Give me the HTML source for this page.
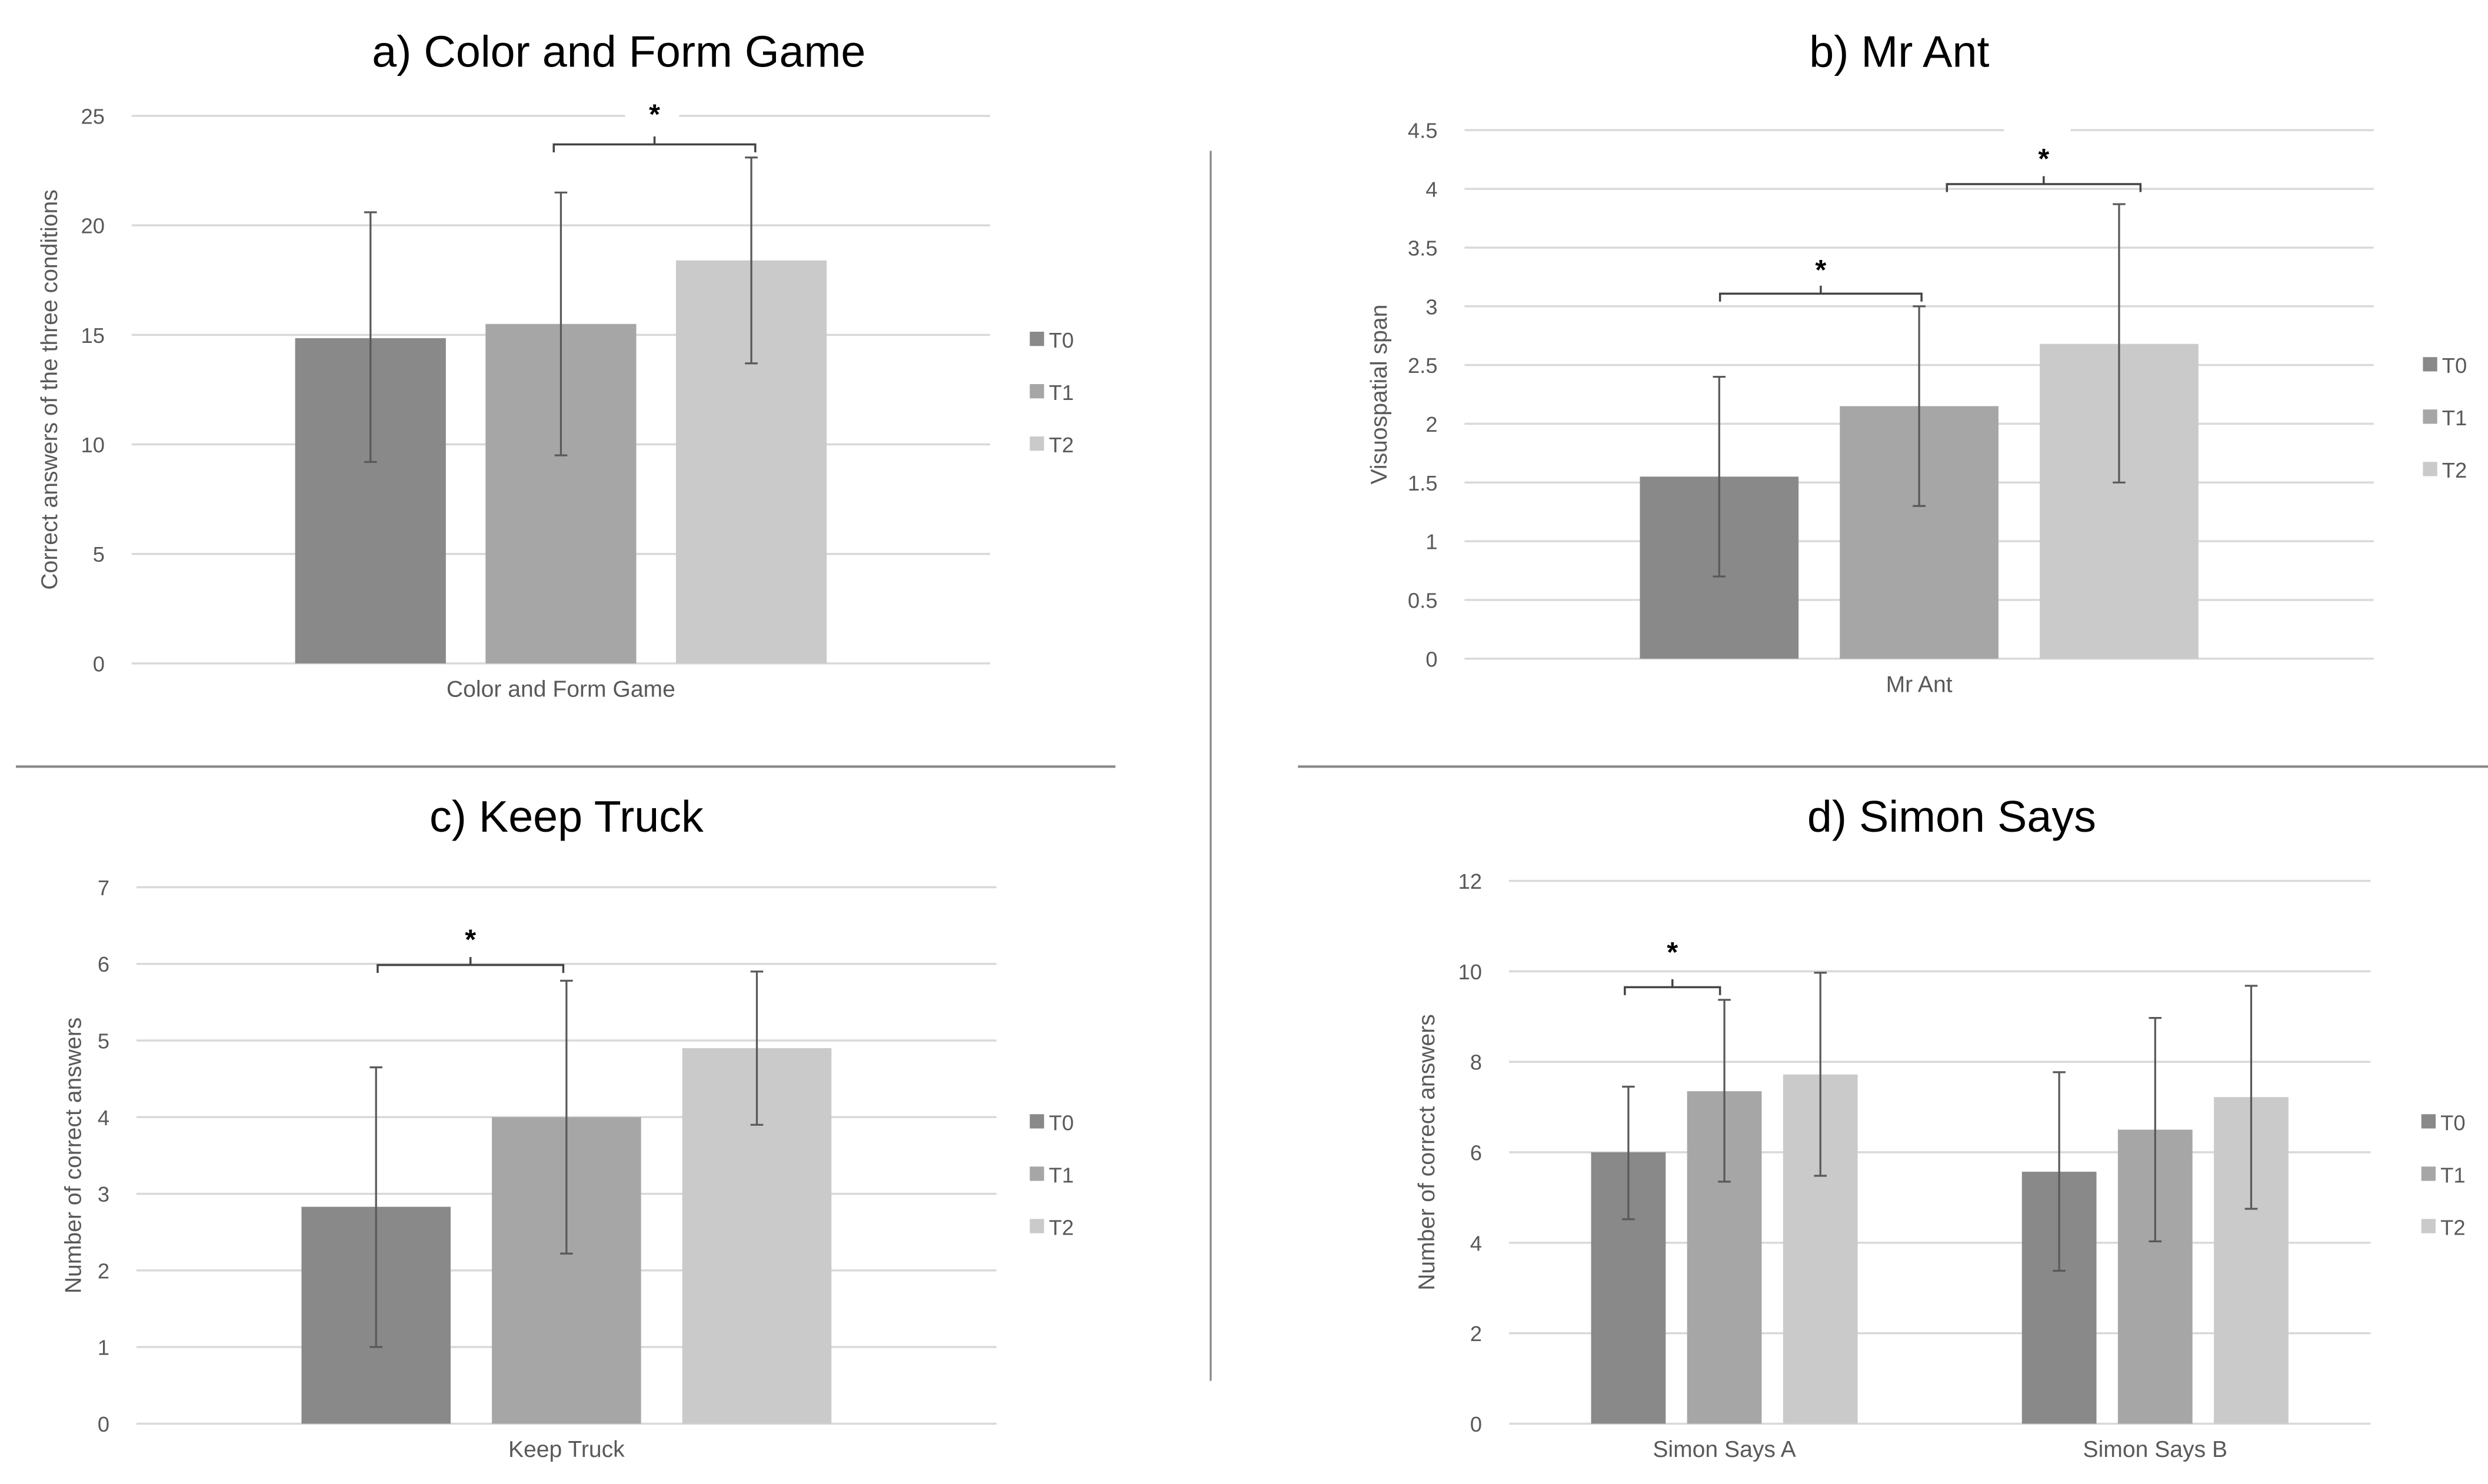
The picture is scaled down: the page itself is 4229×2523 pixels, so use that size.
<!DOCTYPE html>
<html><head><meta charset="utf-8"><style>
html,body{margin:0;padding:0;background:#fff;}
svg{display:block;font-family:"Liberation Sans",sans-serif;}
</style></head><body>
<svg id="fig" width="4229" height="2523" viewBox="0 0 1568 935" preserveAspectRatio="none" xmlns="http://www.w3.org/2000/svg">
<rect width="1568" height="935" fill="#fff"/>
<line x1="763" y1="95" x2="763" y2="870" stroke="#888" stroke-width="1.2"/>
<line x1="10" y1="483" x2="703" y2="483" stroke="#888" stroke-width="1.5"/>
<line x1="818" y1="483" x2="1568" y2="483" stroke="#888" stroke-width="1.5"/>
</svg>
<script>
// ---- data ----
const seriesNames = ["T0","T1","T2"];
const aCats = ["Color and Form Game"];
const aVals = [[14.85],[15.5],[18.4]];
const aLo = [[9.2],[9.5],[13.7]];
const aHi = [[20.6],[21.5],[23.1]];
const aTicks = [0,5,10,15,20,25];
const bCats = ["Mr Ant"];
const bVals = [[1.55],[2.15],[2.68]];
const bLo = [[0.7],[1.3],[1.5]];
const bHi = [[2.4],[3.0],[3.87]];
const bTicks = [0,0.5,1,1.5,2,2.5,3,3.5,4,4.5];
const cCats = ["Keep Truck"];
const cVals = [[2.83],[4.0],[4.9]];
const cLo = [[1.0],[2.22],[3.9]];
const cHi = [[4.65],[5.78],[5.9]];
const cTicks = [0,1,2,3,4,5,6,7];
const dCats = ["Simon Says A","Simon Says B"];
const dVals = [[6.0,5.57],[7.35,6.5],[7.72,7.22]];
const dLo = [[4.52,3.38],[5.35,4.03],[5.48,4.75]];
const dHi = [[7.45,7.77],[9.37,8.97],[9.97,9.68]];
const dTicks = [0,2,4,6,8,10,12];

const svg = document.getElementById('fig');
const NS = "http://www.w3.org/2000/svg";
const colors = ["#898989","#a6a6a6","#cacaca"];
function mk(tag, attrs, parent){const e=document.createElementNS(NS,tag);for(const k in attrs)e.setAttribute(k,attrs[k]);(parent||svg).appendChild(e);return e;}

function panel(p){
  const g = mk('g',{});
  
  
  const max = p.ticks[p.ticks.length-1];
  const y = v => p.y0 - (v/max)*(p.y0-p.yTop);
  p.ticks.forEach(t=>{
    const ln = mk('line',{x1:p.x0,x2:p.x1,y1:y(t),y2:y(t),stroke:'#d9d9d9','stroke-width':1.3},g);
    
    
    const tx = mk('text',{x:p.x0-17,y:y(t)+5,'text-anchor':'end','font-size':13.5,fill:'#595959'},g);
    tx.textContent = t;
    
    
  });
  if(p.gap){ mk('rect',{x:p.gap[0],y:p.yTop-3,width:p.gap[1]-p.gap[0],height:6,fill:'#fff'},g); }
  const groupW = (p.x1-p.x0)/p.cats.length;
  p.cats.forEach((c,ci)=>{
    const gc = p.x0 + groupW*(ci+0.5);
    for(let s=0;s<3;s++){
      const cx = gc + (s-1)*p.step;
      const v = p.vals[s][ci];
      const r = mk('rect',{x:cx-p.bw/2,y:y(v),width:p.bw,height:p.y0-y(v),fill:colors[s]},g);
      
      
      const lo=y(p.lo[s][ci]), hi=y(p.hi[s][ci]);
      const eb = mk('path',{d:`M${cx},${lo}V${hi}M${cx-4},${lo}H${cx+4}M${cx-4},${hi}H${cx+4}`,stroke:'#595959','stroke-width':1.2,fill:'none'},g);
      
      
    }
    const ct = mk('text',{x:gc,y:p.y0+21,'text-anchor':'middle','font-size':14.5,fill:'#595959'},g);
    ct.textContent = c;
    
    
  });
  const yl = mk('text',{x:0,y:0,transform:`translate(${p.ylx},${(p.y0+p.yTop)/2}) rotate(-90)`,'text-anchor':'middle','font-size':14.5,fill:'#595959'},g);
  yl.textContent = p.ylabel;
  
  
  const ti = mk('text',{x:p.tx,y:p.ty,'text-anchor':'middle','font-size':28,fill:'#000'},g);
  ti.textContent = p.title;
  
  
  seriesNames.forEach((n,i)=>{
    const ly = p.legY + i*33;
    const lr = mk('rect',{x:p.legX,y:ly-5,width:9,height:9,fill:colors[i]},g);
    
    
    const lt = mk('text',{x:p.legX+12,y:ly+5,'font-size':13.5,fill:'#595959'},g);
    lt.textContent = n;
    
    
  });
  p.brackets.forEach(b=>{
    const mid=(b[0]+b[1])/2;
    const bk = mk('path',{d:`M${b[0]},${b[2]+5}V${b[2]}H${b[1]}V${b[2]+5}M${mid},${b[2]}V${b[2]-5}`,stroke:'#444','stroke-width':1.3,fill:'none'},g);
    
    
    const st = mk('text',{x:mid,y:b[2]-b[3],'text-anchor':'middle','font-size':18,'font-weight':'bold',fill:'#000'},g);
    st.textContent='*';
    
    
  });
}
panel({id:'a',cats:aCats,vals:aVals,lo:aLo,hi:aHi,ticks:aTicks,x0:83,x1:624,y0:418,yTop:73,bw:95,step:120,ylx:36,ylabel:'Correct answers of the three conditions',title:'a) Color and Form Game',tx:390,ty:42,legX:649,legY:214,gap:[394,428],brackets:[[349,476,91,13]]});
panel({id:'b',cats:bCats,vals:bVals,lo:bLo,hi:bHi,ticks:bTicks,x0:923,x1:1496,y0:415,yTop:82,bw:100,step:126,ylx:874,ylabel:'Visuospatial span',title:'b) Mr Ant',tx:1197,ty:42,legX:1527,legY:230,gap:[1263,1305],brackets:[[1084,1211,185,9],[1227,1349,116,10]]});
panel({id:'c',cats:cCats,vals:cVals,lo:cLo,hi:cHi,ticks:cTicks,x0:86,x1:628,y0:897,yTop:559,bw:94,step:120,ylx:51,ylabel:'Number of correct answers',title:'c) Keep Truck',tx:357,ty:524,legX:649,legY:707,brackets:[[238,355,608,10]]});
panel({id:'d',cats:dCats,vals:dVals,lo:dLo,hi:dHi,ticks:dTicks,x0:951,x1:1494,y0:897,yTop:555,bw:47,step:60.5,ylx:904,ylabel:'Number of correct answers',title:'d) Simon Says',tx:1230,ty:524,legX:1526,legY:707,brackets:[[1024,1084,622,16]]});
</script>
</body></html>
